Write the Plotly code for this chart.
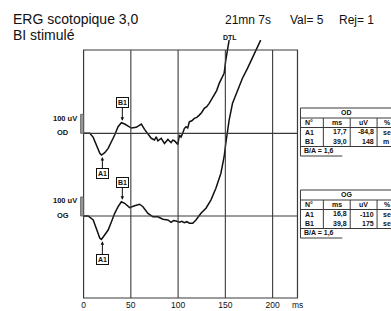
import numpy as np
import plotly.graph_objects as go

W, H = 391, 311

# ---------------- data ----------------
# OD trace: time (ms) and amplitude (uV)
od_ms = [0, 6.6, 10.2, 13.7, 17.2, 18.9, 22.4, 26.0, 29.5, 32.9, 36.5, 40.0, 43.5, 47.1,
         50.5, 55.8, 61.1, 64.5, 68.1, 71.6, 75.1, 76.8, 78.6, 80.4, 82.1, 85.6, 87.4, 89.2,
         92.6, 94.3, 96.1, 97.9, 99.7, 101.4, 103.1, 104.9, 106.6, 108.4, 110.2, 111.9,
         114.5, 117.2, 119.8, 122.4, 125.0, 127.7, 130.3, 132.9, 135.5, 138.2, 140.8,
         143.5, 146.1, 148.7, 150.5, 152.3, 154.0]
od_uv = [0, 0, -21, -62, -105, -114, -102, -79, -44, -9, 35, 56, 49, 38,
         28, 32, 49, 21, 0, -26, -35, -18, -39, -30, -26, -53, -40, -32,
         -49, -36, -39, -50, -58, -9, -20, 0, 25, 35, 28, 61,
         66, 79, 84, 96, 110, 132, 140, 158, 180, 202, 225,
         263, 290, 316, 386, 438, 491]

# OG trace: time (ms) and amplitude (uV)
og_ms = [0, 4.9, 10.2, 13.7, 17.2, 18.9, 22.4, 26.0, 29.5, 32.9, 36.5, 40.0, 43.5, 48.7,
         54.0, 59.3, 62.8, 68.1, 73.4, 78.6, 83.9, 89.2, 92.6, 95.2, 97.9, 101.4, 104.0,
         106.6, 109.3, 111.9, 115.5, 118.9, 124.2, 129.5, 134.7, 140.0, 145.3, 148.7,
         150.5, 152.3, 154.0, 157.6, 162.8, 168.1, 173.4, 178.6, 183.9, 187.4]
og_uv = [0, 0, -21, -74, -117, -123, -100, -74, -30, 14, 49, 75, 67, 44,
         54, 62, 49, 14, -4, -4, -17, -21, -33, -24, -26, -33, -28,
         -35, -30, -38, -38, -21, 14, 41, 84, 146, 225, 312,
         383, 453, 505, 593, 663, 725, 777, 830, 891, 926]

tick_vals = [0, 50, 100, 150, 200]
tick_text = ["0", "50", "100", "150", "200"]

table_cols = ["N°", "ms", "uV", "%"]
row_names = ["A1", "B1"]
od_peak_ms = ["17,7", "39,0"]
od_peak_uv = ["-84,8", "148"]
od_pct = ["se", "m"]
od_ratio = "1,6"
og_peak_ms = ["16,8", "39,8"]
og_peak_uv = ["-110", "175"]
og_pct = ["se", "se"]
og_ratio = "1,6"

title_lines = ["ERG scotopique 3,0", "BI stimulé"]
header_right = ["21mn 7s", "Val= 5", "Rej= 1"]

# ---------------- layout helpers ----------------
OD_OFFSET = 435          # vertical display offset of the OD trace (uV)
UV_PER_PX = 1 / 0.19     # vertical scale
def X(px): return px / W
def Y(py): return 1 - py / H

INK = "#111111"
GRID = "#3a3a3a"
FONT = "Liberation Sans, Arial, sans-serif"

fig = go.Figure()
fig.add_trace(go.Scatter(x=od_ms, y=[v + OD_OFFSET for v in od_uv], mode="lines",
                         line=dict(color=INK, width=1.5), hoverinfo="skip", showlegend=False))
fig.add_trace(go.Scatter(x=og_ms, y=og_uv, mode="lines",
                         line=dict(color=INK, width=1.5), hoverinfo="skip", showlegend=False))

shapes = []
annots = []

# frame
shapes.append(dict(type="rect", xref="paper", yref="paper", x0=X(82), x1=X(297), y0=Y(298), y1=Y(50),
                   line=dict(color=GRID, width=1.2)))
# vertical grid lines
for tv in tick_vals[1:]:
    shapes.append(dict(type="line", xref="x", yref="paper", x0=tv, x1=tv, y0=Y(298), y1=Y(50),
                       line=dict(color=GRID, width=1.1)))
# baselines + scale bars + labels
for base, lbl in [(OD_OFFSET, "OD"), (0, "OG")]:
    shapes.append(dict(type="line", xref="paper", yref="y", x0=X(82), x1=X(297), y0=base, y1=base,
                       line=dict(color=GRID, width=1.1)))
    shapes.append(dict(type="rect", xref="paper", yref="y", x0=X(79), x1=X(82), y0=base, y1=base + 100,
                       line=dict(color="#555555", width=0.8), fillcolor="#9a9a9a"))
    annots.append(dict(text="<b>100 uV</b>", xref="paper", yref="y", x=X(77), y=base + 80,
                       xanchor="right", yanchor="middle", showarrow=False,
                       font=dict(size=7.5, color=INK, family=FONT)))
    annots.append(dict(text="<b>%s</b>" % lbl, xref="paper", yref="y", x=X(69), y=base + 5,
                       xanchor="right", yanchor="middle", showarrow=False,
                       font=dict(size=7.5, color=INK, family=FONT)))

# peak markers
def marker(name, ms, trace_ms, trace_uv, offset, ay):
    uv = float(np.interp(ms, trace_ms, trace_uv)) + offset
    annots.append(dict(text="<b>%s</b>" % name, x=ms + 1.0, y=uv, xref="x", yref="y",
                       showarrow=True, ax=0, ay=ay, arrowhead=2, arrowsize=0.7, arrowwidth=1,
                       arrowcolor=INK, standoff=2, bordercolor=INK, borderwidth=1, borderpad=1,
                       bgcolor="white", font=dict(size=7, color=INK, family=FONT)))

od_min_ms = od_ms[int(np.argmin(od_uv[:20]))]
og_min_ms = og_ms[int(np.argmin(og_uv[:20]))]
od_max_ms = od_ms[int(np.argmax(od_uv[:20]))]
og_max_ms = og_ms[int(np.argmax(og_uv[:20]))]
marker("A1", od_min_ms, od_ms, od_uv, OD_OFFSET, 18)
marker("B1", od_max_ms, od_ms, od_uv, OD_OFFSET, -20)
marker("A1", og_min_ms, og_ms, og_uv, 0, 20)
marker("B1", og_max_ms, og_ms, og_uv, 0, -19)

# header texts
annots.append(dict(text=title_lines[0], xref="paper", yref="paper", x=X(9), y=Y(19), xanchor="left",
                   yanchor="middle", showarrow=False, font=dict(size=14, color=INK, family=FONT)))
annots.append(dict(text=title_lines[1], xref="paper", yref="paper", x=X(9), y=Y(35), xanchor="left",
                   yanchor="middle", showarrow=False, font=dict(size=14, color=INK, family=FONT)))
for txt, px in zip(header_right, [222, 287, 337]):
    annots.append(dict(text=txt, xref="paper", yref="paper", x=X(px), y=Y(20), xanchor="left",
                       yanchor="middle", showarrow=False, font=dict(size=12, color=INK, family=FONT)))
annots.append(dict(text="<b>DTL</b>", xref="paper", yref="paper", x=X(229), y=Y(37), xanchor="center",
                   yanchor="middle", showarrow=False, font=dict(size=7, color=INK, family=FONT)))
annots.append(dict(text="ms", xref="paper", yref="paper", x=X(297), y=Y(305), xanchor="center",
                   yanchor="middle", showarrow=False, font=dict(size=8.5, color=INK, family=FONT)))

# tables
def table(top, eye, p_ms, p_uv, pct, ratio):
    L, R = 300, 392
    cols = [300, 323, 350, 377]
    r1, r2, r3, r4 = top + 10, top + 19.5, top + 38.5, top + 48
    ln = dict(color=GRID, width=1)
    for yy in [top, r1, r2, r3]:
        shapes.append(dict(type="line", xref="paper", yref="paper", x0=X(L), x1=X(R), y0=Y(yy), y1=Y(yy), line=ln))
    shapes.append(dict(type="line", xref="paper", yref="paper", x0=X(L), x1=X(342), y0=Y(r4), y1=Y(r4), line=ln))
    shapes.append(dict(type="line", xref="paper", yref="paper", x0=X(L), x1=X(L), y0=Y(top), y1=Y(r4), line=ln))
    for cx in cols[1:]:
        shapes.append(dict(type="line", xref="paper", yref="paper", x0=X(cx), x1=X(cx), y0=Y(r1), y1=Y(r3), line=ln))
    f = dict(size=7, color=INK, family=FONT)
    annots.append(dict(text="<b>%s</b>" % eye, xref="paper", yref="paper", x=X(346), y=Y(top + 5),
                       xanchor="center", yanchor="middle", showarrow=False, font=f))
    for c, cx0, cx1 in zip(table_cols, cols, cols[1:] + [392]):
        annots.append(dict(text="<b>%s</b>" % c, xref="paper", yref="paper",
                           x=X(303) if c == "N°" else X((cx0 + cx1) / 2 if c != "%" else 382),
                           y=Y(top + 14.8), xanchor="left" if c in ("N°", "%") else "center",
                           yanchor="middle", showarrow=False, font=f))
    for i, nm in enumerate(row_names):
        yy = top + 24 + i * 9.5
        annots.append(dict(text="<b>%s</b>" % nm, xref="paper", yref="paper", x=X(303), y=Y(yy),
                           xanchor="left", yanchor="middle", showarrow=False, font=f))
        annots.append(dict(text="<b>%s</b>" % p_ms[i], xref="paper", yref="paper", x=X(348.5), y=Y(yy),
                           xanchor="right", yanchor="middle", showarrow=False, font=f))
        annots.append(dict(text="<b>%s</b>" % p_uv[i], xref="paper", yref="paper", x=X(375.5), y=Y(yy),
                           xanchor="right", yanchor="middle", showarrow=False, font=f))
        annots.append(dict(text="<b>%s</b>" % pct[i], xref="paper", yref="paper", x=X(381), y=Y(yy),
                           xanchor="left", yanchor="middle", showarrow=False, font=f))
    annots.append(dict(text="<b>B/A = %s</b>" % ratio, xref="paper", yref="paper", x=X(302), y=Y(top + 43.3),
                       xanchor="left", yanchor="middle", showarrow=False, font=f))

table(108, "OD", od_peak_ms, od_peak_uv, od_pct, od_ratio)
table(190, "OG", og_peak_ms, og_peak_uv, og_pct, og_ratio)

y_bottom = -(298 - 216) * UV_PER_PX
y_top = (216 - 40) * UV_PER_PX

fig.update_layout(
    width=W, height=H, margin=dict(l=0, r=0, t=0, b=0),
    paper_bgcolor="white", plot_bgcolor="rgba(0,0,0,0)",
    font=dict(family=FONT, color=INK),
    xaxis=dict(domain=[X(82), X(297)], range=[0, (297 - 82) / 0.95], tickvals=tick_vals,
               ticktext=tick_text, showgrid=False, zeroline=False, showline=False, ticks="",
               tickfont=dict(size=8.5, color=INK, family=FONT), fixedrange=True),
    yaxis=dict(domain=[Y(298), Y(40)], range=[y_bottom, y_top], showgrid=False, zeroline=False,
               showticklabels=False, showline=False, ticks="", fixedrange=True),
    shapes=shapes, annotations=annots, showlegend=False,
)

fig.write_html("out.html", config={"displayModeBar": False, "staticPlot": True},
               post_script="document.body.style.margin='0px';document.body.style.padding='0px';")
